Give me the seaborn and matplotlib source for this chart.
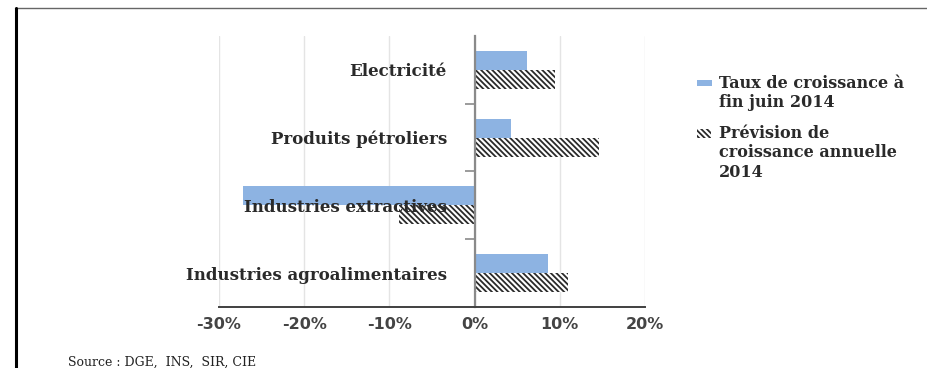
import matplotlib
matplotlib.use("Agg")
import matplotlib.pyplot as plt
from matplotlib.lines import Line2D
from matplotlib.patches import Rectangle
from matplotlib.ticker import FuncFormatter, FixedLocator
import seaborn as sns
import pandas as pd

# Secteurs (de haut en bas) et taux en %
secteurs = ["Electricité", "Produits pétroliers", "Industries extractives",
            "Industries agroalimentaires"]
taux_juin = [6.2, 4.3, -27.2, 8.6]
prevision_annuelle = [9.4, 14.6, -8.9, 11.0]
serie_juin = "Taux de croissance à\nfin juin 2014"
serie_prev = "Prévision de\ncroissance annuelle\n2014"
x_ticks = [-30, -20, -10, 0, 10, 20]
source = "Source : DGE,  INS,  SIR, CIE"

BLEU = "#8db3e2"
HACHURE = "\\\\\\\\\\\\"
TRAIT = "#2a2a2a"

df = pd.DataFrame({
    "secteur": secteurs * 2,
    "valeur": taux_juin + prevision_annuelle,
    "serie": [serie_juin] * len(secteurs) + [serie_prev] * len(secteurs),
})

sns.set_theme(style="white")
plt.rcParams["hatch.linewidth"] = 1.3

W, H = 928, 368
fig = plt.figure(figsize=(W / 100, H / 100), dpi=100)
ax = fig.add_axes([0.236, 0.166, 0.459, 0.736])

sns.barplot(data=df, y="secteur", x="valeur", hue="serie", order=secteurs,
            hue_order=[serie_juin, serie_prev], orient="h", width=0.56,
            palette=[BLEU, "white"], saturation=1, errorbar=None,
            linewidth=0, legend=False, ax=ax)

# Série « prévision » : hachures noires sur fond blanc
for bar in ax.containers[1]:
    bar.set_facecolor("white")
    bar.set_edgecolor(TRAIT)
    bar.set_hatch(HACHURE)
    bar.set_linewidth(0)

ax.set_xlim(x_ticks[0], x_ticks[-1])
ax.set_ylim(len(secteurs) - 0.5, -0.5)
ax.xaxis.set_major_locator(FixedLocator(x_ticks))
ax.xaxis.set_major_formatter(FuncFormatter(lambda v, p: f"{v:.0f}%"))
ax.set_xlabel("")
ax.set_ylabel("")

# Grille verticale claire, sous les barres
ax.set_axisbelow(True)
ax.grid(axis="x", color="#e4e4e4", linewidth=1.0)
ax.grid(axis="y", visible=False)

# Axe vertical placé à 0 %
for s in ("top", "right"):
    ax.spines[s].set_visible(False)
ax.spines["left"].set_position(("data", 0))
ax.spines["left"].set_color("#8a8a8a")
ax.spines["left"].set_linewidth(1.6)
ax.spines["bottom"].set_color("#404040")
ax.spines["bottom"].set_linewidth(1.4)

ax.tick_params(axis="x", which="major", direction="out", length=3, width=1.4,
               color="#404040", pad=4, labelsize=11.5, labelcolor="#444444")
for lab in ax.get_xticklabels():
    lab.set_fontweight("bold")
    lab.set_fontfamily("DejaVu Sans")

ax.yaxis.set_minor_locator(FixedLocator([0.5, 1.5, 2.5]))
ax.tick_params(axis="y", which="minor", direction="out", length=7, width=1.2,
               color="#8a8a8a", left=True)
ax.tick_params(axis="y", which="major", length=0, pad=20, labelsize=12,
               labelcolor="#2a2a2a")
for lab in ax.get_yticklabels():
    lab.set_fontfamily("DejaVu Serif")
    lab.set_fontweight("bold")
ax.yaxis.set_zorder(3)


# Légende à droite : repère aligné sur la première ligne de chaque libellé
def px(x, y):
    return x / W, 1 - y / H


legende = [
    (serie_juin, dict(facecolor=BLEU, linewidth=0), 83, (697, 15, 6)),
    (serie_prev, dict(facecolor="white", edgecolor=TRAIT, hatch=HACHURE,
                      linewidth=0), 133, (697, 14, 9)),
]
for texte, style, y_ligne, (x0, w, h) in legende:
    fx, fy = px(x0, y_ligne + h / 2)
    fig.add_artist(Rectangle((fx, fy), w / W, h / H,
                             transform=fig.transFigure, **style))
    tx, ty = px(719, y_ligne - 8.5)
    fig.text(tx, ty, texte, family="DejaVu Serif", weight="bold", size=11.5,
             color="#2a2a2a", ha="left", va="top", linespacing=1.2)

fig.text(68 / W, 1 - 362 / H, source, family="DejaVu Serif", size=9,
         color="#222222", va="center", ha="left")

# Cadre : trait gris en haut, trait noir à gauche
fig.add_artist(Line2D([15 / W, 1.0], [1 - 8 / H, 1 - 8 / H],
                      transform=fig.transFigure, color="#666666", linewidth=1.0))
fig.add_artist(Line2D([16 / W, 16 / W], [1 - 8 / H, 0.0],
                      transform=fig.transFigure, color="black", linewidth=2.2))

fig.savefig("out.png", dpi=100, facecolor="white")
